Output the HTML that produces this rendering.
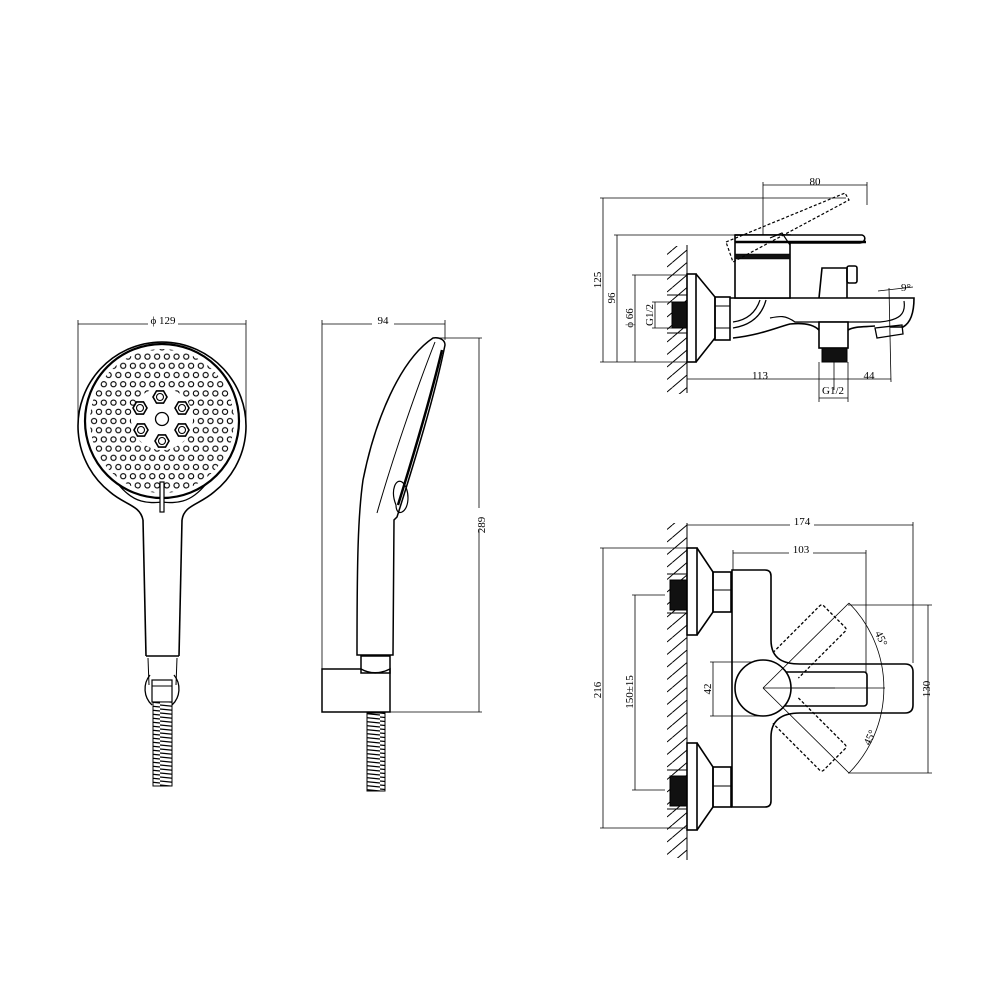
<!DOCTYPE html>
<html><head><meta charset="utf-8"><style>
html,body{margin:0;padding:0;background:#fff;}
svg{display:block;}
text{font-family:"Liberation Serif",serif;font-size:11px;fill:#000;}
</style></head><body>
<svg width="1000" height="1000" viewBox="0 0 1000 1000" xmlns="http://www.w3.org/2000/svg">
<defs>
<pattern id="coil" width="20" height="4" patternUnits="userSpaceOnUse">
<rect width="20" height="4" fill="#fff"/>
<line x1="0" y1="1" x2="20" y2="3" stroke="#000" stroke-width="1.3"/>
</pattern>
<pattern id="hatch" x="667" y="0" width="20" height="12.5" patternUnits="userSpaceOnUse">
<line x1="5.3" y1="12.5" x2="20" y2="0" stroke="#000" stroke-width="1"/>
<line x1="0" y1="4.5" x2="5.3" y2="0" stroke="#000" stroke-width="1"/>
</pattern>
<pattern id="dots" x="157.15" y="416.4" width="9.7" height="18.4" patternUnits="userSpaceOnUse">
<circle cx="4.85" cy="4.6" r="2.6" fill="#fff" stroke="#000" stroke-width="1.1"/>
<circle cx="0" cy="13.8" r="2.6" fill="#fff" stroke="#000" stroke-width="1.1"/>
<circle cx="9.7" cy="13.8" r="2.6" fill="#fff" stroke="#000" stroke-width="1.1"/>
</pattern>
<mask id="ann">
<rect width="1000" height="1000" fill="#000"/>
<circle cx="162" cy="421" r="72" fill="#fff"/>
<circle cx="162" cy="419" r="31" fill="#000"/>
</mask>
</defs>
<rect width="1000" height="1000" fill="#fff"/>

<!-- ===== Front shower ===== -->
<g stroke="#000" fill="none" stroke-width="0.8">
<line x1="78" y1="324" x2="246" y2="324"/>
<line x1="78" y1="320" x2="78" y2="420"/>
<line x1="246" y1="320" x2="246" y2="420"/>
</g>
<rect x="148" y="316" width="30" height="10" fill="#fff"/>
<text x="163" y="324" text-anchor="middle">ϕ 129</text>
<rect x="80" y="340" width="170" height="170" fill="url(#dots)" mask="url(#ann)"/>
<g stroke="#000" fill="none" stroke-width="1.6">
<path d="M143 520 C140 505 125 505 110 492 A84 84 0 1 1 214 492 C199 505 184 505 182 520"/>
<circle cx="162" cy="421" r="77" stroke-width="2.2"/>
<path d="M118 484 C135 505 150 503 162 502 C174 503 189 505 206 484" stroke-width="1.3"/>
<line x1="143" y1="520" x2="146" y2="656"/>
<line x1="182" y1="520" x2="179" y2="656"/>
<line x1="146" y1="656" x2="179" y2="656"/>
<line x1="148" y1="658" x2="149" y2="685" stroke-width="1"/>
<line x1="177" y1="658" x2="176" y2="685" stroke-width="1"/>
<path d="M150 675 A22 22 0 0 0 152 705 M174 675 A22 22 0 0 1 172 705" stroke-width="1.3"/>
<rect x="152" y="680" width="20" height="22" stroke-width="1.2"/>
<line x1="152" y1="686" x2="172" y2="686" stroke-width="1"/>
<rect x="160" y="482" width="4" height="30" fill="#fff" stroke-width="1.2"/>
</g>
<g stroke="#000" fill="#fff" stroke-width="1.6">
<circle cx="162" cy="419" r="6.5" stroke-width="1.3"/>
<polygon points="167,397 163.5,403.1 156.5,403.1 153,397 156.5,390.9 163.5,390.9"/>
<polygon points="147,408 143.5,414.1 136.5,414.1 133,408 136.5,401.9 143.5,401.9"/>
<polygon points="189,408 185.5,414.1 178.5,414.1 175,408 178.5,401.9 185.5,401.9"/>
<polygon points="148,430 144.5,436.1 137.5,436.1 134,430 137.5,423.9 144.5,423.9"/>
<polygon points="189,430 185.5,436.1 178.5,436.1 175,430 178.5,423.9 185.5,423.9"/>
<polygon points="169,441 165.5,447.1 158.5,447.1 155,441 158.5,434.9 165.5,434.9"/>
<g stroke-width="1.1">
<circle cx="160" cy="397" r="3.5"/><circle cx="140" cy="408" r="3.5"/><circle cx="182" cy="408" r="3.5"/>
<circle cx="141" cy="430" r="3.5"/><circle cx="182" cy="430" r="3.5"/><circle cx="162" cy="441" r="3.5"/>
</g>
</g>
<rect x="153" y="702" width="19" height="84" fill="url(#coil)" stroke="#000" stroke-width="1"/>

<!-- ===== Side shower ===== -->
<g stroke="#000" fill="none" stroke-width="0.8">
<line x1="322" y1="324" x2="445" y2="324"/>
<line x1="322" y1="320" x2="322" y2="712"/>
<line x1="445" y1="320" x2="445" y2="340"/>
<line x1="440" y1="338" x2="482" y2="338"/>
<line x1="390" y1="712" x2="482" y2="712"/>
<line x1="479" y1="338" x2="479" y2="712"/>
</g>
<rect x="372" y="316" width="22" height="10" fill="#fff"/>
<text x="383" y="324" text-anchor="middle">94</text>
<rect x="470" y="508" width="12" height="22" fill="#fff"/>
<text x="0" y="0" transform="translate(485,525) rotate(-90)" text-anchor="middle">289</text>
<g stroke="#000" fill="none" stroke-width="1.5">
<path d="M433 338 C400 360 375 420 363 480 C358 515 357 560 357 655 L393 655 L394 520 L397 517 C415 460 435 395 445 345 C445 340 440 337 433 338 Z"/>
<path d="M435 342 C420 380 395 450 377 513" stroke-width="1"/>
<path d="M396 505 C390 490 396 478 402 482 C410 488 410 508 402 512 C398 514 396 510 396 505" stroke-width="1.2"/>
<path d="M442 350 C430 400 412 460 398 505" stroke-width="2.5"/>
<rect x="361" y="656" width="29" height="17"/>
<path d="M322 669 L361 669 C370 674 380 674 390 669 L390 712 L322 712 Z"/>
</g>
<rect x="367" y="713" width="18" height="78" fill="url(#coil)" stroke="#000" stroke-width="1"/>

<!-- ===== Tap side view ===== -->
<rect x="667" y="246" width="20" height="148" fill="url(#hatch)"/>
<g stroke="#000" fill="none" stroke-width="0.8">
<line x1="603" y1="198" x2="603" y2="362"/>
<line x1="600" y1="198" x2="846" y2="198"/>
<line x1="617" y1="235" x2="617" y2="362"/>
<line x1="614" y1="235" x2="735" y2="235"/>
<line x1="635" y1="275" x2="635" y2="362"/>
<line x1="632" y1="275" x2="695" y2="275"/>
<line x1="655" y1="302" x2="655" y2="328"/>
<line x1="652" y1="302" x2="672" y2="302"/>
<line x1="652" y1="328" x2="672" y2="328"/>
<line x1="600" y1="362" x2="696" y2="362"/>
<line x1="763" y1="185" x2="867" y2="185"/>
<line x1="763" y1="182" x2="763" y2="262"/>
<line x1="867" y1="182" x2="867" y2="205"/>
<line x1="687" y1="379" x2="891" y2="379"/>
<line x1="819" y1="362" x2="819" y2="402"/>
<line x1="848" y1="362" x2="848" y2="402"/>
<line x1="834" y1="362" x2="834" y2="390"/>
<line x1="819" y1="398" x2="848" y2="398"/>
<line x1="889" y1="288" x2="891" y2="382"/>
<line x1="878" y1="291" x2="913" y2="287"/>
</g>
<text x="815" y="185" text-anchor="middle">80</text>
<text x="760" y="379" text-anchor="middle">113</text>
<text x="869" y="379" text-anchor="middle">44</text>
<text x="833" y="394" text-anchor="middle">G1/2</text>
<text x="906" y="291" text-anchor="middle">9°</text>
<text transform="translate(601,280) rotate(-90)" text-anchor="middle">125</text>
<text transform="translate(615,298) rotate(-90)" text-anchor="middle">96</text>
<text transform="translate(633,318) rotate(-90)" text-anchor="middle">ϕ 66</text>
<text transform="translate(653,315) rotate(-90)" text-anchor="middle">G1/2</text>
<g stroke="#000" fill="none" stroke-width="1.6">
<line x1="687" y1="245" x2="687" y2="393" stroke-width="1"/>
<rect x="672" y="302" width="15" height="26" fill="#111" stroke-width="1"/>
<line x1="667" y1="295" x2="687" y2="295" stroke-width="1"/>
<line x1="667" y1="333" x2="687" y2="333" stroke-width="1"/>
<rect x="687" y="274" width="9" height="88" fill="#fff"/>
<path d="M696 274 L715 297 L715 338 L696 362"/>
<rect x="715" y="297" width="15" height="43"/>
<line x1="715" y1="306" x2="730" y2="306" stroke-width="1"/>
<line x1="715" y1="328" x2="730" y2="328" stroke-width="1"/>
<path d="M730 298 L914 298 C914 310 912 322 903 327 L890 327"/>
<path d="M904 301 C906 314 900 320 880 322 L795 322 C785 315 780 316 770 318" stroke-width="1.2"/>
<path d="M733 328 C752 325 762 315 766 300" stroke-width="1.3"/>
<path d="M733 322 C748 320 756 312 760 300" stroke-width="1.2"/>
<path d="M733 338 C760 335 775 328 790 324 C800 323 812 323 819 330"/>
<rect x="819" y="322" width="29" height="26" fill="#fff"/>
<rect x="822" y="348" width="25" height="14" fill="#111" stroke-width="1"/>
<path d="M848 330 C855 326 865 327 875 326"/>
<path d="M875 328 L902 325 L903 334 L877 338 Z" stroke-width="1.3"/>
<rect x="735" y="235" width="55" height="63" fill="#fff"/>
<rect x="735" y="254" width="55" height="5" fill="#111" stroke-width="0.5"/>
<path d="M735 235 L862 235 C866 236 866 242 860 243 L790 243" fill="#fff"/>
<path d="M735 242 L866 242" stroke-width="2.5"/>
<path d="M819 298 L822 268 L847 268 L847 298"/>
<rect x="847" y="266" width="10" height="17" rx="2"/>
<path d="M726 242 L845 193 L849 200 L733 262 Z" stroke-dasharray="3 2" stroke-width="1.2"/>
<path d="M770 238 L782 233 L790 245" stroke-width="1.2"/>
</g>

<!-- ===== Tap top view ===== -->
<rect x="667" y="523" width="20" height="335" fill="url(#hatch)"/>
<g stroke="#000" fill="none" stroke-width="0.8">
<line x1="687" y1="525" x2="913" y2="525"/>
<line x1="913" y1="522" x2="913" y2="663"/>
<line x1="733" y1="553" x2="866" y2="553"/>
<line x1="733" y1="550" x2="733" y2="570"/>
<line x1="866" y1="550" x2="866" y2="672"/>
<line x1="603" y1="548" x2="603" y2="828"/>
<line x1="600" y1="548" x2="697" y2="548"/>
<line x1="600" y1="828" x2="697" y2="828"/>
<line x1="635" y1="595" x2="635" y2="790"/>
<line x1="632" y1="595" x2="665" y2="595"/>
<line x1="632" y1="790" x2="665" y2="790"/>
<line x1="713" y1="662" x2="713" y2="716"/>
<line x1="710" y1="662" x2="763" y2="662"/>
<line x1="710" y1="716" x2="763" y2="716"/>
<line x1="928" y1="605" x2="928" y2="773"/>
<line x1="848" y1="605" x2="932" y2="605"/>
<line x1="848" y1="773" x2="932" y2="773"/>
<line x1="763" y1="688" x2="885" y2="688"/>
<path d="M849 603 A121 121 0 0 1 849 773"/>
</g>
<rect x="790" y="517" width="24" height="10" fill="#fff"/>
<text x="802" y="525" text-anchor="middle">174</text>
<rect x="789" y="545" width="24" height="10" fill="#fff"/>
<text x="801" y="553" text-anchor="middle">103</text>
<text transform="translate(601,690) rotate(-90)" text-anchor="middle">216</text>
<text transform="translate(633,692) rotate(-90)" text-anchor="middle">150±15</text>
<text transform="translate(711,689) rotate(-90)" text-anchor="middle">42</text>
<text transform="translate(930,689) rotate(-90)" text-anchor="middle">130</text>
<text transform="translate(878,640) rotate(65)" text-anchor="middle">45°</text>
<text transform="translate(873,739) rotate(-65)" text-anchor="middle">45°</text>
<g stroke="#000" fill="none" stroke-width="1.6">
<line x1="687" y1="523" x2="687" y2="860" stroke-width="1"/>
<rect x="670" y="580" width="17" height="30" fill="#111" stroke-width="1"/>
<rect x="670" y="776" width="17" height="30" fill="#111" stroke-width="1"/>
<line x1="667" y1="574" x2="687" y2="574" stroke-width="1"/>
<line x1="667" y1="613" x2="687" y2="613" stroke-width="1"/>
<line x1="667" y1="770" x2="687" y2="770" stroke-width="1"/>
<line x1="667" y1="809" x2="687" y2="809" stroke-width="1"/>
<rect x="687" y="548" width="10" height="87" fill="#fff"/>
<path d="M697 548 L713 572 L713 612 L697 635"/>
<rect x="713" y="572" width="18" height="40"/>
<line x1="713" y1="590" x2="731" y2="590" stroke-width="1"/>
<rect x="687" y="743" width="10" height="87" fill="#fff"/>
<path d="M697 743 L713 767 L713 807 L697 830"/>
<rect x="713" y="767" width="18" height="40"/>
<line x1="713" y1="786" x2="731" y2="786" stroke-width="1"/>
<path d="M732 570 L765 570 Q771 570 771 576 L771 640 C771 660 785 664 800 664 L905 664 Q913 664 913 672 L913 705 Q913 713 905 713 L800 713 C785 713 771 718 771 737 L771 801 Q771 807 765 807 L732 807 Z"/>
<rect x="783" y="672" width="84" height="34" rx="3"/>
<circle cx="763" cy="688" r="28" fill="#fff"/>
<g stroke-dasharray="3 2" stroke-width="1.3">
<path transform="rotate(-45 763 688)" d="M795 670 L861 670 Q864 670 864 673 L864 703 Q864 706 861 706 L795 706"/>
<path transform="rotate(45 763 688)" d="M795 670 L861 670 Q864 670 864 673 L864 703 Q864 706 861 706 L795 706"/>
</g>
</g>
<g stroke="#000" stroke-width="0.8">
<line x1="763" y1="688" x2="849" y2="603"/>
<line x1="763" y1="688" x2="849" y2="773"/>
<line x1="763" y1="688" x2="835" y2="688"/>
</g>
</svg>
</body></html>
